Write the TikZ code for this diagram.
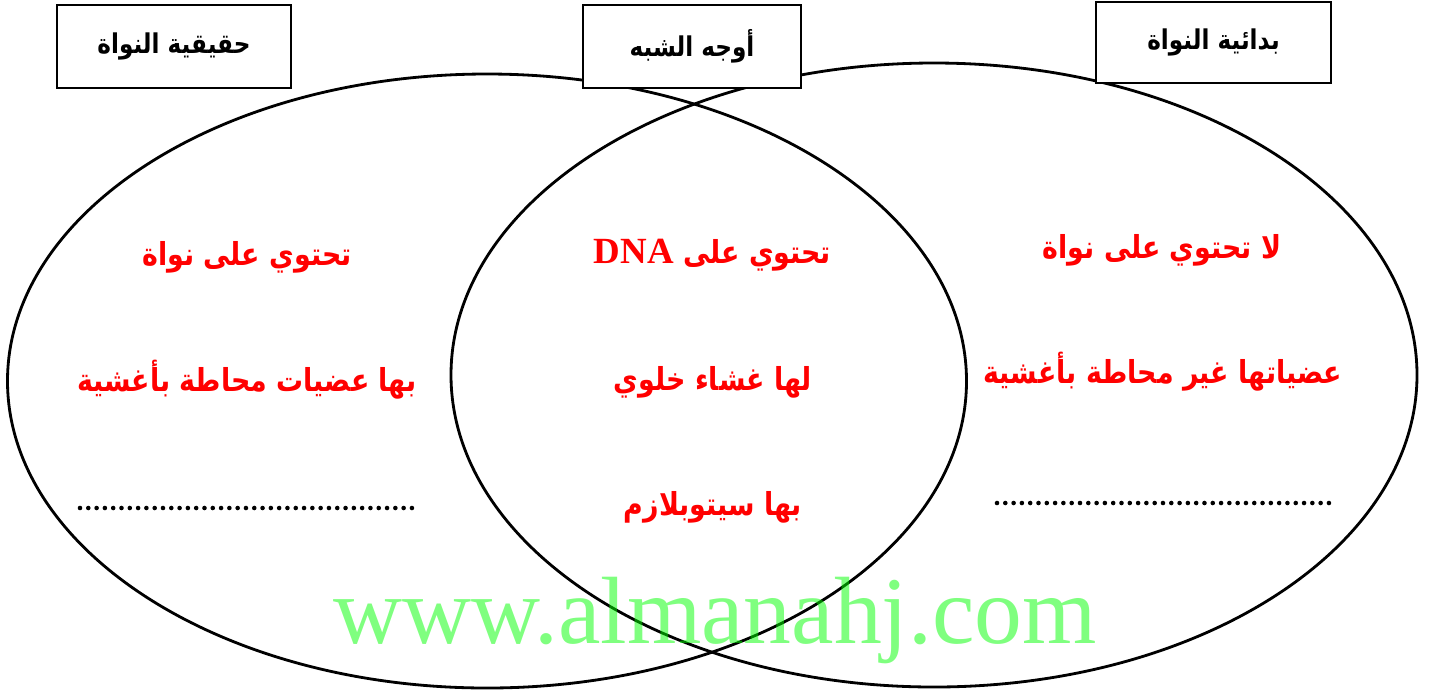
\documentclass[tikz,border=0pt]{standalone}
\usepackage{fontspec}
\usepackage{xcolor}
\TeXXeTstate=1
\newfontfamily\arabicfont[Script=Arabic,FakeStretch=0.85]{DejaVu Sans}
\newfontfamily\latinserif{Liberation Serif}

\begin{document}
\begin{tikzpicture}[x=0.02cm,y=-0.02cm,
  titlebox/.style={draw,line width=1.4pt,fill=white,inner sep=0pt,
    font=\arabicfont\bfseries\fontsize{15.5}{18}\selectfont},
  redtext/.style={text=red,inner sep=0pt,
    font=\arabicfont\bfseries\fontsize{18}{22}\selectfont},
  dotline/.style={line width=2.6pt,line cap=round,dash pattern=on 0pt off 0.166cm}]
\useasboundingbox (0,0) rectangle (1429,691);
%draw the two ellipses
\draw[line width=1.6pt] (487,381) ellipse [x radius=479.5, y radius=307];
\draw[line width=1.6pt] (934,375) ellipse [x radius=483, y radius=312];
%draw the three title boxes
\node[titlebox,minimum width=4.68cm,minimum height=1.66cm] (euk) at (174,46.5) {\beginR حقيقية النواة\endR};
\node[titlebox,minimum width=4.36cm,minimum height=1.66cm] (same) at (692,46.5) {\beginR أوجه الشبه\endR};
\node[titlebox,minimum width=4.70cm,minimum height=1.62cm] (prok) at (1213.5,42.5) {\beginR بدائية النواة\endR};
%left side
\node[redtext] (euk1) at (247,257) {\beginR تحتوي على نواة\endR};
\node[redtext] (euk2) at (247,380) {\beginR بها عضيات محاطة بأغشية\endR};
\coordinate (eukdotsa) at (80,508);
\coordinate (eukdotsb) at (413,508);
\draw[dotline] (eukdotsa) -- (eukdotsb);
%middle
\node[redtext] (same1) at (712.5,255) {\beginR تحتوي على {\beginL\latinserif\bfseries\fontsize{21}{22}\selectfont DNA\endL}\endR};
\node[redtext] (same2) at (713,382) {\beginR لها غشاء خلوي\endR};
\node[redtext] (same3) at (713,507) {\beginR بها سيتوبلازم\endR};
%right side
\node[redtext] (prok1) at (1162,250) {\beginR لا تحتوي على نواة\endR};
\node[redtext] (prok2) at (1163,372) {\beginR عضياتها غير محاطة بأغشية\endR};
\coordinate (prokdotsa) at (997,503);
\coordinate (prokdotsb) at (1330,503);
\draw[dotline] (prokdotsa) -- (prokdotsb);
%watermark
\node[text=green,text opacity=0.5,inner sep=0pt,anchor=base,
  font=\latinserif\fontsize{54.4}{60}\selectfont] (site) at (715,643) {www.almanahj.com};
\end{tikzpicture}
\end{document}
